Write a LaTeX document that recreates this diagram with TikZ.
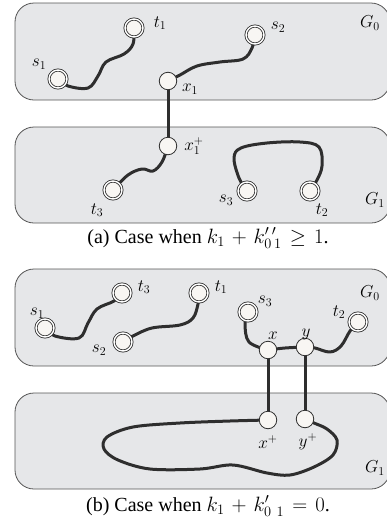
\documentclass[tikz,border=0pt]{standalone}
\usepackage{fontspec}
\setmainfont{Liberation Serif}
\usetikzlibrary{backgrounds}
\definecolor{panel}{HTML}{E6E7E9}
\definecolor{rim}{HTML}{555555}
\definecolor{ink}{HTML}{2E2E2E}
\definecolor{dotfill}{HTML}{F8F6F3}
\medmuskip=6mu plus 2mu minus 2mu\relax
\thickmuskip=7mu plus 3mu\relax
\tikzset{
  panelbox/.style={fill=panel, draw=rim, line width=0.8pt, rounded corners=19pt},
  term/.style={circle, draw=ink, line width=0.8pt, double=white, double distance=1.4pt, fill=dotfill, minimum size=18pt, inner sep=0pt},
  via/.style={circle, draw=ink, line width=0.8pt, fill=dotfill, minimum size=17.5pt, inner sep=0pt},
  lbl/.style={inner sep=0pt, font=\fontsize{16.5}{18}\selectfont},
  wire/.style={draw=ink, line width=3pt, line cap=round, line join=round},
  captext/.style={inner sep=0pt, font=\fontsize{20}{23}\selectfont}
}
\begin{document}
\begin{tikzpicture}[x=1pt, y=-1pt]
\useasboundingbox (0,0) rectangle (387,528);
% ---------- (a) ----------
\node[term] (as1) at (58,79) {};
\node[term] (at1) at (134,28) {};
\node[term] (as2) at (255,35) {};
\node[via]  (ax1) at (168,81) {};
\node[via]  (ax1p) at (168,146) {};
\node[term] (at3) at (113,190) {};
\node[term] (as3) at (247,191) {};
\node[term] (at2) at (310,191) {};
\node[lbl] (las1) at (39,64) {$s_1$};
\node[lbl] (lat1) at (160,23) {$t_1$};
\node[lbl] (las2) at (278,27) {$s_2$};
\node[lbl] (lax1) at (190,89) {$x_1$};
\node[lbl] (lax1p) at (194,146) {$x_1^+$};
\node[lbl] (lat3) at (97,210) {$t_3$};
\node[lbl] (las3) at (226,200) {$s_3$};
\node[lbl] (lat2) at (322,210) {$t_2$};
\node[lbl] (laG0) at (370,23) {$G_0$};
\node[lbl] (laG1) at (375,200) {$G_1$};
\node[captext] (capa) at (208,238) {(a) Case when $k_1+k'_{0}{}'_{\,1}\geq 1$.};
% ---------- (b) ----------
\node[term] (bs1) at (45,328) {};
\node[term] (bt3) at (122,293) {};
\node[term] (bs2) at (123,342) {};
\node[term] (bt1) at (199,293) {};
\node[term] (bs3) at (248,312) {};
\node[via]  (bx) at (268,350) {};
\node[via]  (by) at (305,347) {};
\node[term] (bt2) at (358,322) {};
\node[via]  (bxp) at (268,420) {};
\node[via]  (byp) at (305,419) {};
\node[lbl] (lbs1) at (37,313) {$s_1$};
\node[lbl] (lbt3) at (144,287) {$t_3$};
\node[lbl] (lbs2) at (99,350) {$s_2$};
\node[lbl] (lbt1) at (221,287) {$t_1$};
\node[lbl] (lbs3) at (265,301) {$s_3$};
\node[lbl] (lbx) at (273,336) {$x$};
\node[lbl] (lby) at (306,334) {$y$};
\node[lbl] (lbt2) at (339,312) {$t_2$};
\node[lbl] (lbxp) at (268,442) {$x^+$};
\node[lbl] (lbyp) at (308,442) {$y^+$};
\node[lbl] (lbG0) at (370,293) {$G_0$};
\node[lbl] (lbG1) at (375,468) {$G_1$};
\node[captext] (capb) at (208,506) {(b) Case when $k_1+k'_{0\;1}=0$.};
\begin{scope}[on background layer]
  \path[panelbox] (15,3) rectangle (390,100);
  \path[panelbox] (15,127) rectangle (390,223);
  \path[panelbox] (15,269) rectangle (390,366);
  \path[panelbox] (15,393) rectangle (390,489);
  % (a) wires
  \draw[wire] plot[smooth, tension=0.6] coordinates {(as1.center) (68,86) (88,88) (98,76) (106,62) (124,54) (133,44) (at1.center)};
  \draw[wire] plot[smooth, tension=0.6] coordinates {(ax1.center) (180,75) (197,66) (220,62) (243,59) (252,48) (as2.center)};
  \draw[wire] (ax1) -- (ax1p);
  \draw[wire] plot[smooth, tension=0.6] coordinates {(ax1p.center) (162,162) (153,171) (142,169) (128,175) (at3.center)};
  \draw[wire] plot[smooth, tension=0.6] coordinates {(as3.center) (239,178) (234,158) (241,148) (267,143) (300,142) (319,147) (322,166) (317,180) (at2.center)};
  % (b) wires
  \draw[wire] plot[smooth, tension=0.6] coordinates {(bs1.center) (55,336) (79,338) (88,323) (97,309) (114,301) (bt3.center)};
  \draw[wire] plot[smooth, tension=0.6] coordinates {(bs2.center) (133,336) (152,328) (180,325) (193,318) (198,304) (bt1.center)};
  \draw[wire] plot[smooth, tension=0.6] coordinates {(bs3.center) (245,324) (249,342) (bx.center)};
  \draw[wire] plot[smooth, tension=0.6] coordinates {(bx.center) (285,348) (by.center)};
  \draw[wire] plot[smooth, tension=0.6] coordinates {(by.center) (315,348) (330,352) (341,346) (350,331) (bt2.center)};
  \draw[wire] (bx) -- (bxp);
  \draw[wire] (by) -- (byp);
  \draw[wire] plot[smooth, tension=0.55] coordinates {(bxp.center) (230,421) (180,423) (133,427) (107,437) (104,449) (118,460) (150,469) (200,469) (233,465) (267,473) (290,475) (314,467) (333,455) (337,440) (327,429) (314,423) (byp.center)};
\end{scope}
\end{tikzpicture}
\end{document}
